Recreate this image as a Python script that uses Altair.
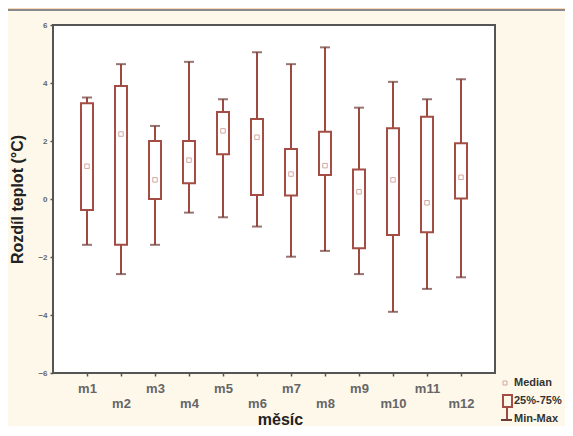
import altair as alt
import pandas as pd

# ---- data ----
months = ["m1", "m2", "m3", "m4", "m5", "m6", "m7", "m8", "m9", "m10", "m11", "m12"]
v_min = [-1.58, -2.59, -1.58, -0.47, -0.63, -0.95, -1.99, -1.79, -2.59, -3.89, -3.10, -2.70]
v_q1 = [-0.38, -1.58, 0.00, 0.54, 1.54, 0.14, 0.12, 0.83, -1.70, -1.24, -1.15, 0.02]
v_med = [1.13, 2.24, 0.66, 1.34, 2.35, 2.13, 0.86, 1.15, 0.25, 0.66, -0.13, 0.75]
v_q3 = [3.30, 3.90, 2.00, 2.00, 3.00, 2.76, 1.72, 2.32, 1.02, 2.44, 2.84, 1.92]
v_max = [3.50, 4.65, 2.52, 4.73, 3.44, 5.06, 4.65, 5.23, 3.15, 4.04, 3.44, 4.13]
y_ticks = [-6, -4, -2, 0, 2, 4, 6]
legend_labels = ["Median", "25%-75%", "Min-Max"]

df = pd.DataFrame({"month": months, "min": v_min, "q1": v_q1,
                   "med": v_med, "q3": v_q3, "max": v_max})
one = pd.DataFrame({"k": [0]})

W, H = 442, 348
FONT = "Liberation Sans"
BOX = "#a34d44"
WHISK = "#9e4a40"
CAP = "#6e3a34"
MED = "#c2847a"

even = "['m2','m4','m6','m8','m10','m12']"
x_scale = alt.Scale(type="point", padding=1)
x_axis = alt.Axis(title="měsíc", titleFont=FONT, titleFontSize=16,
                  titleFontWeight="bold", titleColor="#222222",
                  titleX=227, titleY=51, titleBaseline="alphabetic",
                  titleAlign="center", titleAnchor="start",
                  labelFont=FONT, labelFontSize=13, labelFontWeight="bold",
                  labelColor="#666666", labelAngle=0, labelPadding=6,
                  labelLineHeight=15,
                  labelExpr=f"indexof({even}, datum.label) >= 0 ? [' ', datum.label] : datum.label",
                  tickSize=3, tickColor="#555555", tickWidth=1.5,
                  domain=False, grid=False, zindex=1)
X = alt.X("month:N", sort=months, scale=x_scale, axis=x_axis)
y_scale = alt.Scale(domain=[-6, 6], nice=False, zero=False)
y_axis = alt.Axis(title="Rozdíl teplot (°C)", titleFont=FONT, titleFontSize=16,
                  titleFontWeight="bold", titleColor="#222222",
                  titleX=-36, titleY=174, titleAngle=270, titleBaseline="middle",
                  titleAlign="center", titleAnchor="start",
                  values=y_ticks, labelFont=FONT, labelFontSize=8,
                  labelFontWeight="bold", labelColor="#666666", labelPadding=3,
                  tickSize=3, tickColor="#555555", tickWidth=1.5,
                  domain=False, grid=False, zindex=1)

# decorative panels
panel = alt.Chart(one).mark_rect(fill="#fdf8ea", stroke="#8a8a8a", strokeWidth=2).encode(
    x=alt.value(-46), x2=alt.value(700), y=alt.value(-15), y2=alt.value(600))
plot_bg = alt.Chart(one).mark_rect(fill="#ffffff", stroke="#555555", strokeWidth=2).encode(
    x=alt.value(0), x2=alt.value(W), y=alt.value(0), y2=alt.value(H))

base = alt.Chart(df)
whisk = base.mark_rule(color=WHISK, strokeWidth=2).encode(
    x=X, y=alt.Y("min:Q", scale=y_scale, axis=y_axis), y2="max:Q")
box = base.mark_bar(size=12, fill="#ffffff", stroke=BOX, strokeWidth=2).encode(
    x=X, y=alt.Y("q1:Q", scale=y_scale, axis=y_axis), y2="q3:Q")
cap_hi = base.mark_tick(color=CAP, size=10, thickness=2).encode(
    x=X, y=alt.Y("max:Q", scale=y_scale, axis=y_axis))
cap_lo = base.mark_tick(color=CAP, size=10, thickness=2).encode(
    x=X, y=alt.Y("min:Q", scale=y_scale, axis=y_axis))
median = base.mark_point(shape="square", size=20, filled=False, color=MED,
                         strokeWidth=1).encode(
    x=X, y=alt.Y("med:Q", scale=y_scale, axis=y_axis))

# legend (drawn by hand)
leg_med = alt.Chart(one).mark_point(shape="square", size=16, filled=False, color=MED,
                                    strokeWidth=1).encode(x=alt.value(452), y=alt.value(358))
leg_box = alt.Chart(one).mark_rect(fill="#ffffff", fillOpacity=0, stroke=BOX, strokeWidth=2).encode(
    x=alt.value(450), x2=alt.value(459), y=alt.value(370), y2=alt.value(382))
leg_wh = alt.Chart(one).mark_rule(color=WHISK, strokeWidth=2).encode(
    x=alt.value(454), y=alt.value(382), y2=alt.value(395))
leg_cap = alt.Chart(one).mark_rule(color=CAP, strokeWidth=2).encode(
    x=alt.value(448), x2=alt.value(459), y=alt.value(395))
leg_texts = []
for lab, yy in zip(legend_labels, [358, 376, 394]):
    leg_texts.append(alt.Chart(one).mark_text(text=lab, align="left", baseline="middle",
                                              font=FONT, fontSize=11, fontWeight="bold",
                                              color="#333333").encode(
        x=alt.value(461), y=alt.value(yy)))

chart = alt.layer(panel, plot_bg, whisk, box, cap_hi, cap_lo, median,
                  leg_med, leg_box, leg_wh, leg_cap, *leg_texts).properties(
    width=W, height=H,
    autosize=alt.AutoSizeParams(type="none"),
    padding={"left": 45, "top": 17, "right": 70, "bottom": 53},
    background="#fcd8bb",
).configure_view(stroke=None, fill=None)

chart.save("out.html", embed_options={"renderer": "svg", "actions": False})
